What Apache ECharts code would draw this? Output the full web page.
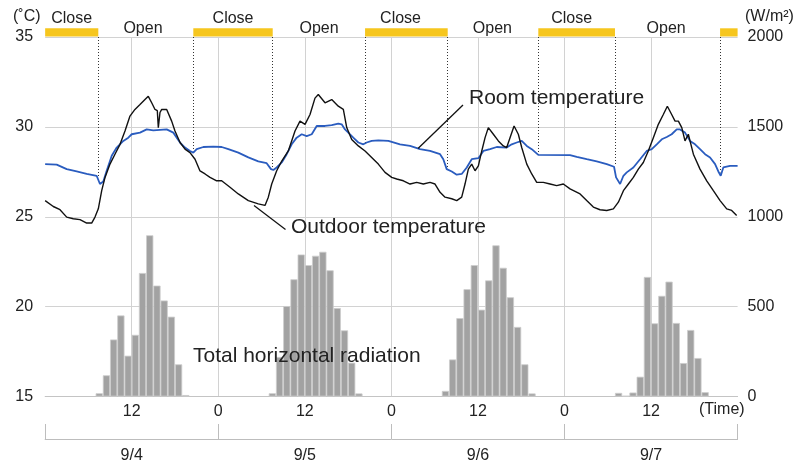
<!DOCTYPE html>
<html>
<head>
<meta charset="utf-8">
<title>Room / outdoor temperature and radiation</title>
<script src="https://cdn.jsdelivr.net/npm/echarts@6/dist/echarts.min.js"></script>
<style>
  html, body { margin: 0; padding: 0; background: #fff; }
  #chart { width: 795px; height: 464px; }
</style>
</head>
<body>
<div id="chart"></div>
<script>
// x axis = hours since 9/4 0:00
const dayLabels = ['9/4', '9/5', '9/6', '9/7'];
const tempTicks = [15, 20, 25, 30, 35];
const radTicks = [0, 500, 1000, 1500, 2000];

// hourly total horizontal radiation (W/m2), bars from 7:00 to 20:00
const radStartHour = 7;
const radDay1 = [18, 118, 317, 451, 227, 343, 687, 897, 617, 534, 444, 179, 8];
const radDay2 = [18, 220, 503, 652, 790, 731, 783, 805, 702, 492, 368, 188, 17];
const radDay3 = [31, 206, 436, 597, 731, 483, 646, 841, 716, 552, 387, 179, 17];
const radDay4 = [20, 3, 22, 110, 665, 407, 560, 639, 409, 186, 370, 214, 24];

// [hour, degC]
const outdoorTemp = [
  [0, 25.9], [1.13, 25.57], [2.06, 25.39], [2.99, 24.98], [3.9, 24.89], [4.83, 24.84],
  [5.76, 24.65], [6.45, 24.65], [6.91, 24.98], [7.37, 25.44], [7.84, 26.45], [8.3, 27.19],
  [8.99, 27.93], [9.68, 28.48], [10.38, 29.03], [11.07, 29.77], [11.76, 30.6], [12.45, 30.97],
  [13.15, 31.24], [13.84, 31.52], [14.3, 31.7], [14.77, 31.34], [15.23, 30.97], [15.55, 30.9],
  [15.69, 29.95], [15.92, 30.8], [16.16, 30.97], [16.85, 30.97], [17.54, 30.32], [18.0, 29.77],
  [18.7, 29.13], [19.39, 28.76], [20.08, 28.57], [20.78, 28.2], [21.47, 27.55], [22.17, 27.38],
  [22.86, 27.19], [23.78, 27.0], [24.47, 27.0], [25.63, 26.64], [26.78, 26.27], [28.17, 25.9],
  [29.55, 25.72], [30.48, 25.63], [30.94, 26.09], [31.41, 26.82], [32.1, 27.56], [32.8, 28.1],
  [33.71, 28.66], [34.64, 29.77], [35.33, 30.32], [36.03, 30.14], [36.72, 30.69], [37.41, 31.6],
  [37.87, 31.8], [38.8, 31.34], [39.73, 31.52], [40.64, 31.15], [41.34, 30.97], [41.81, 29.96],
  [42.5, 29.3], [43.42, 28.94], [44.35, 28.66], [45.27, 28.3], [46.19, 27.93], [47.12, 27.47],
  [48.05, 27.19], [48.74, 27.1], [49.66, 27.0], [50.59, 26.82], [51.51, 26.91], [52.43, 26.82],
  [53.36, 26.91], [54.05, 26.82], [54.75, 26.36], [55.44, 26.09], [56.37, 26.0], [57.06, 25.9],
  [57.75, 26.09], [58.21, 26.82], [58.67, 27.65], [59.14, 27.93], [59.6, 27.56], [60.06, 27.83],
  [60.53, 28.66], [60.99, 29.4], [61.44, 29.96], [62.14, 29.59], [62.83, 29.22], [63.52, 28.94],
  [63.99, 28.85], [64.45, 29.4], [65.01, 30.05], [65.6, 29.59], [66.07, 28.85], [66.77, 27.93],
  [67.46, 27.38], [68.15, 26.91], [69.07, 26.91], [70.0, 26.82], [70.92, 26.73], [71.84, 26.82],
  [72.77, 26.55], [74.16, 26.27], [75.08, 25.9], [76.0, 25.54], [76.93, 25.39], [77.86, 25.35],
  [78.78, 25.44], [79.47, 25.81], [80.17, 26.45], [80.86, 26.82], [81.55, 27.19], [82.24, 27.65],
  [82.93, 28.02], [83.62, 28.66], [84.32, 29.4], [85.01, 30.14], [85.7, 30.69], [86.26, 31.15],
  [86.86, 30.69], [87.33, 30.32], [87.79, 30.32], [88.26, 29.96], [88.71, 29.22], [89.17, 29.59],
  [89.87, 28.48], [90.79, 27.65], [91.72, 27.0], [92.64, 26.45], [93.57, 25.9], [94.49, 25.44],
  [95.18, 25.35], [95.87, 25.07]
];

const roomTemp = [
  [0, 27.93], [1.6, 27.9], [2.99, 27.65], [4.37, 27.52], [5.76, 27.38], [7.14, 27.28],
  [7.37, 27.19], [7.6, 26.82], [8.06, 26.96], [8.53, 27.56], [9.23, 28.39], [9.92, 28.85],
  [10.84, 29.22], [11.53, 29.4], [12.0, 29.59], [13.15, 29.68], [14.08, 29.86], [15.0, 29.8],
  [16.85, 29.86], [17.77, 29.68], [18.24, 29.4], [18.7, 29.13], [19.39, 28.85], [20.08, 28.66],
  [20.54, 28.57], [21.01, 28.76], [21.93, 28.88], [23.31, 28.9], [24.47, 28.88], [25.4, 28.76],
  [26.78, 28.57], [28.17, 28.3], [29.55, 28.08], [30.71, 27.98], [31.31, 27.65], [31.64, 27.6],
  [32.1, 27.74], [32.8, 28.02], [33.49, 28.48], [34.18, 29.03], [34.87, 29.4], [35.57, 29.59],
  [36.26, 29.49], [36.96, 29.59], [37.65, 30.05], [38.8, 30.05], [39.73, 30.1], [40.64, 30.18],
  [41.11, 30.14], [41.57, 29.86], [42.03, 29.68], [42.72, 29.4], [43.42, 29.13], [44.11, 29.03],
  [44.58, 29.13], [45.27, 29.22], [46.19, 29.25], [47.58, 29.22], [49.2, 29.03], [50.59, 28.94],
  [51.97, 28.76], [53.36, 28.66], [54.75, 28.48], [55.2, 28.2], [55.67, 27.65], [56.37, 27.52],
  [57.06, 27.34], [57.75, 27.38], [58.45, 27.74], [59.14, 28.2], [60.06, 28.26], [60.76, 28.66],
  [61.68, 28.76], [62.61, 28.88], [63.99, 28.85], [64.69, 29.03], [65.38, 29.13], [66.07, 29.22],
  [66.77, 28.94], [67.46, 28.76], [68.37, 28.44], [72.77, 28.43], [73.7, 28.33], [75.08, 28.2],
  [76.47, 28.08], [77.86, 27.93], [78.87, 27.78], [79.15, 27.19], [79.71, 26.82], [80.17, 27.28],
  [80.63, 27.47], [81.55, 27.74], [82.48, 28.2], [83.4, 28.66], [84.1, 28.76], [84.79, 29.03],
  [85.49, 29.31], [86.18, 29.44], [86.86, 29.59], [87.56, 29.86], [88.02, 29.86], [88.71, 29.68],
  [89.4, 29.22], [90.1, 29.03], [90.79, 28.76], [91.49, 28.48], [92.18, 28.3], [92.88, 27.93],
  [93.33, 27.52], [93.66, 27.28], [94.02, 27.74], [94.95, 27.83], [96, 27.83]
];

// window switching (dotted lines drop down to the room temperature)
const switchHours = [7.37, 20.54, 31.55, 44.35, 55.81, 68.37, 79.0, 93.57];
const switchRoomTemp = [27.19, 28.66, 27.65, 29.13, 27.74, 28.48, 27.83, 27.47];

// closed periods (yellow bars) and label positions
const closeStart = [0, 20.54, 44.35, 68.37, 93.57];
const closeEnd = [7.37, 31.55, 55.81, 79.0, 96];
const closeLabelHour = [3.68, 26.05, 49.27, 73.0, null];
const openLabelHour = [13.56, 37.97, 62.0, 86.1];

const FONT = '"Liberation Sans", Arial, sans-serif';
const TEXT = '#222';
const GRID_LINE = '#d2d2d2';

const radData = [];
[radDay1, radDay2, radDay3, radDay4].forEach((day, d) => {
  day.forEach((v, i) => {
    radData.push([24 * d + radStartHour + i + 0.5, v]);
  });
});

const chart = echarts.init(document.getElementById('chart'));

// annotation text on top of everything
const note = (text, left, top, size) => ({
  type: 'text', left, top, z: 100,
  style: { text, fontSize: size, fontFamily: FONT, fill: TEXT }
});

const option = {
  animation: false,
  backgroundColor: '#fff',
  textStyle: { fontFamily: FONT },
  grid: { left: 45.15, right: 57.4, top: 37, bottom: 65.5 },
  xAxis: [
    {
      type: 'value',
      min: 0,
      max: 96,
      interval: 12,
      axisLine: { lineStyle: { color: '#c4c4c4', width: 1 } },
      axisTick: { show: false },
      axisLabel: {
        fontSize: 16,
        color: TEXT,
        margin: 7,
        showMinLabel: false,
        showMaxLabel: false,
        formatter: v => (v % 24 === 0 ? '0' : '12')
      },
      splitLine: {
        show: true,
        showMinLine: false,
        showMaxLine: false,
        lineStyle: { color: GRID_LINE, width: 1 }
      }
    },
    {
      // date bracket below the hour axis
      type: 'category',
      data: dayLabels,
      position: 'bottom',
      offset: 42.5,
      boundaryGap: true,
      axisLine: { lineStyle: { color: '#bdbdbd', width: 1 } },
      axisTick: { show: true, inside: true, length: 15, lineStyle: { color: '#bdbdbd' } },
      axisLabel: { fontSize: 16, color: TEXT, margin: 9 },
      splitLine: { show: false }
    }
  ],
  yAxis: [
    {
      type: 'value',
      min: tempTicks[0],
      max: tempTicks[tempTicks.length - 1],
      interval: 5,
      position: 'left',
      axisLine: { show: false },
      axisTick: { show: false },
      axisLabel: { fontSize: 16, color: TEXT, margin: 12 },
      splitLine: { lineStyle: { color: GRID_LINE, width: 1 } }
    },
    {
      type: 'value',
      min: radTicks[0],
      max: radTicks[radTicks.length - 1],
      interval: 500,
      position: 'right',
      axisLine: { show: false },
      axisTick: { show: false },
      axisLabel: { fontSize: 16, color: TEXT, margin: 10, formatter: v => String(v) },
      splitLine: { show: false }
    }
  ],
  series: [
    {
      name: 'Total horizontal radiation',
      type: 'bar',
      xAxisIndex: 0,
      yAxisIndex: 1,
      barWidth: '100%',
      data: radData,
      itemStyle: { color: '#a2a2a2', borderColor: '#cdcdcd', borderWidth: 0.8 },
      silent: true
    },
    {
      name: 'Close',
      type: 'custom',
      xAxisIndex: 0,
      yAxisIndex: 0,
      clip: false,
      silent: true,
      data: closeStart.map((s, i) => [s, closeEnd[i], closeLabelHour[i] == null ? '-' : closeLabelHour[i]]),
      renderItem: (params, api) => {
        const a = api.coord([api.value(0), 35]);
        const b = api.coord([api.value(1), 35]);
        const children = [{
          type: 'rect',
          shape: { x: a[0], y: a[1] - 8.7, width: b[0] - a[0], height: 8.2 },
          style: { fill: '#f6c61e' }
        }];
        const lh = api.value(2);
        if (!isNaN(lh)) {
          const c = api.coord([lh, 35]);
          children.push({
            type: 'text',
            style: {
              text: 'Close', x: c[0], y: c[1] - 18,
              align: 'center', verticalAlign: 'middle',
              fontSize: 16, fontFamily: FONT, fill: TEXT
            }
          });
        }
        return { type: 'group', children };
      }
    },
    {
      name: 'Open',
      type: 'custom',
      xAxisIndex: 0,
      yAxisIndex: 0,
      clip: false,
      silent: true,
      data: openLabelHour.map(h => [h]),
      renderItem: (params, api) => {
        const c = api.coord([api.value(0), 35]);
        return {
          type: 'text',
          style: {
            text: 'Open', x: c[0], y: c[1] - 8.5,
            align: 'center', verticalAlign: 'middle',
            fontSize: 16, fontFamily: FONT, fill: TEXT
          }
        };
      }
    },
    {
      name: 'Room temperature',
      type: 'line',
      xAxisIndex: 0,
      yAxisIndex: 0,
      data: roomTemp,
      showSymbol: false,
      lineStyle: { color: '#2a5cbf', width: 1.8 },
      itemStyle: { color: '#2a5cbf' },
      markLine: {
        silent: true,
        symbol: 'none',
        label: { show: false },
        lineStyle: { color: '#333', type: [1, 2], width: 1 },
        data: switchHours.map((h, i) => [{ coord: [h, 35] }, { coord: [h, switchRoomTemp[i]] }])
      },
      z: 3
    },
    {
      name: 'Outdoor temperature',
      type: 'line',
      xAxisIndex: 0,
      yAxisIndex: 0,
      data: outdoorTemp,
      showSymbol: false,
      lineStyle: { color: '#111', width: 1.4 },
      itemStyle: { color: '#111' },
      z: 4
    }
  ],
  graphic: [
    note('(˚C)', 13, 9, 16),
    note('(W/m²)', 745, 9, 16),
    note('(Time)', 699, 402, 16),
    note('Room temperature', 469, 88, 21),
    note('Outdoor temperature', 291, 217, 21),
    note('Total horizontal radiation', 193, 346, 21),
    { type: 'line', z: 100, shape: { x1: 463, y1: 105, x2: 418, y2: 148.5 }, style: { stroke: '#111', lineWidth: 1.3 } },
    { type: 'line', z: 100, shape: { x1: 254, y1: 205.5, x2: 285.5, y2: 229.5 }, style: { stroke: '#111', lineWidth: 1.3 } }
  ]
};

chart.setOption(option);
</script>
</body>
</html>
